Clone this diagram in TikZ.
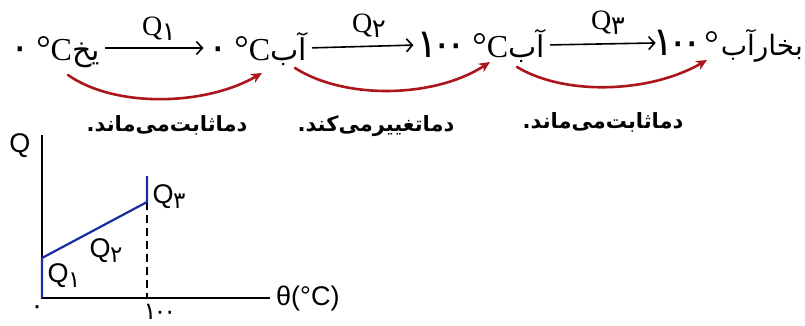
\documentclass[tikz,border=0pt]{standalone}
\usepackage{fontspec}
\setmainfont{Liberation Serif}
\newfontfamily\fa[Script=Arabic]{DejaVu Sans}
\newfontfamily\lsans{Liberation Sans}
\TeXXeTstate=1
\usetikzlibrary{arrows.meta}
\definecolor{arrred}{RGB}{170,22,28}
\definecolor{plotblue}{RGB}{25,45,160}
\newcommand\Qsub[2]{Q\kern-0.5pt\raisebox{-5pt}{\fa\fontsize{#2}{#2}\selectfont #1}}
\newcommand\fadig[1]{{\fa\fontsize{40}{40}\selectfont #1}}
\newcommand\fahundred{{\fa\fontsize{40}{40}\selectfont ۱\kern-7pt۰\kern-7pt۰}}
\newcommand\faword[2]{{\fa\fontsize{#1}{#1}\selectfont\beginR #2\endR}}
\newcommand\degr{{\fontsize{36}{36}\selectfont °}}
\begin{document}
\begin{tikzpicture}[x=1pt,y=-1pt,
  statenode/.style={anchor=base east, inner sep=0pt, text height=28pt, text depth=4pt,
    font=\fontsize{32}{32}\selectfont},
  qlab/.style={inner sep=0pt, font=\fontsize{28}{28}\selectfont},
  caption/.style={inner sep=0pt, font=\fa\bfseries\fontsize{21}{21}\selectfont},
  blackarrow/.style={line width=1.6pt, shorten <=5pt,
    -{Straight Barb[length=6pt,width=13pt,line width=1.6pt]}},
  redarrow/.style={draw=arrred, line width=2.6pt, line cap=round,
    -{Stealth[length=11pt,width=10pt]}},
  axisline/.style={line width=2pt},
  plotline/.style={draw=plotblue, line width=2.2pt},
  dashline/.style={line width=2pt, dash pattern=on 8pt off 5pt},
  glab/.style={inner sep=0pt, font=\lsans\fontsize{27}{27}\selectfont}
]
\useasboundingbox (0,0) rectangle (805,325);

% --- states ---
\node[statenode] (s1) at (100,60) {\fadig{۰}\,\degr C\faword{30}{یخ}};
\node[statenode] (s2) at (307,60) {\fadig{۰}\,\degr C\faword{30}{آب}};
\node[statenode] (s3) at (545,57) {\fahundred\,\degr C\faword{30}{آب}};
\node[statenode] (s4) at (803,55) {\fahundred\kern1pt\degr\kern2pt\faword{28}{بخارآب}};

% --- black arrows and Q labels ---
\draw[blackarrow, shorten >=4pt] (s1.east) -- (s2.west);
\draw[blackarrow, shorten >=3pt] (s2.east) -- (s3.west);
\draw[blackarrow, shorten >=-3pt] (s3.east) -- (s4.west);
\node[qlab] (q1) at (159,29) {\Qsub{۱}{26}};
\node[qlab] (q2) at (369,26) {\Qsub{۲}{26}};
\node[qlab] (q3) at (608,23) {\Qsub{۳}{26}};

% --- red curved arrows ---
\coordinate (r1s) at (68,75);  \coordinate (r1e) at (262,73);
\coordinate (r2s) at (295,68); \coordinate (r2e) at (490,62);
\coordinate (r3s) at (517,67); \coordinate (r3e) at (707,60);
\draw[redarrow] (r1s) .. controls (115,108) and (205,106) .. (r1e);
\draw[redarrow] (r2s) .. controls (345,100) and (435,98) .. (r2e);
\draw[redarrow] (r3s) .. controls (565,96) and (650,93) .. (r3e);

% --- captions ---
\node[caption] (c1) at (167,125) {\beginR دماثابت‌می‌ماند.\endR};
\node[caption] (c2) at (376,126) {\beginR دماتغییرمی‌کند.\endR};
\node[caption] (c3) at (603,122) {\beginR دماثابت‌می‌ماند.\endR};

% --- graph ---
\coordinate (O) at (42,298);
\coordinate (ytop) at (42,135);
\coordinate (xend) at (270,298);
\draw[axisline] (ytop) -- (O) -- (xend);
\coordinate (b1) at (42,258);
\coordinate (b2) at (147,202);
\coordinate (b3) at (147,176);
\coordinate (d0) at (147,298);
\draw[dashline] (b2) -- (d0);
\draw[plotline] (O) -- (b1) -- (b2) -- (b3);

\node[glab] (qaxis) at (20,146) {Q};
\node[glab,anchor=west] (theta) at (276,299) {θ(°C)};
\node[glab] (gq1) at (64,276) {\Qsub{۱}{23}};
\node[glab] (gq2) at (106,251) {\Qsub{۲}{23}};
\node[glab] (gq3) at (169,197) {\Qsub{۳}{23}};
\node[inner sep=0pt, font=\fa\fontsize{26}{26}\selectfont] (orig) at (37,310) {۰};
\node[inner sep=0pt, font=\fa\fontsize{24}{24}\selectfont] (tick) at (160,312) {۱\kern-3pt۰\kern-3pt۰};
\end{tikzpicture}
\end{document}
